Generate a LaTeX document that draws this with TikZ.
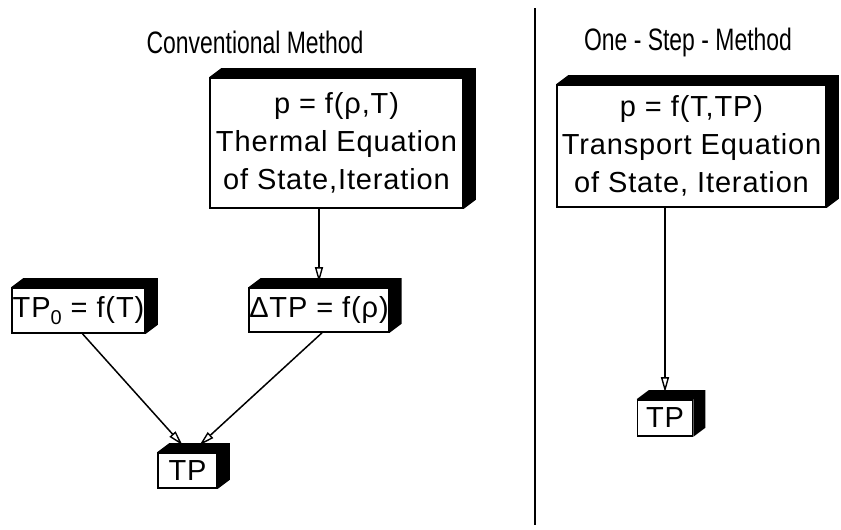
\documentclass[tikz,border=0pt]{standalone}
\usepackage{fontspec}
\setmainfont{Liberation Sans}
\newfontfamily\titlefont[FakeStretch=0.74]{Liberation Sans}
\newfontfamily\boxfont[LetterSpace=3]{Liberation Sans}
\usetikzlibrary{arrows.meta}
\tikzset{
  cube/.style={draw, line width=1.6pt, fill=white, inner sep=0pt, align=center,
    font=\boxfont\fontsize{29}{38}\selectfont},
  ttl/.style={font=\titlefont\fontsize{31}{33}\selectfont},
  conn/.style={line width=1.5pt, -{Triangle[open,length=15pt,width=8pt,line width=1.4pt]}}
}
\begin{document}
\begin{tikzpicture}[x=1pt,y=-1pt]
\useasboundingbox (0,0) rectangle (841,530);
% titles and divider
\node[ttl] (t1) at (255,42) {Conventional Method};
\node[ttl] (t2) at (688,42) {One - Step - Method};
\coordinate (dtop) at (535,8);
\coordinate (dbot) at (535,525);
\draw[line width=1.6pt] (dtop) -- (dbot);
% boxes
\node[cube, minimum width=253pt, minimum height=130pt] (therm) at (336.5,143)
  {p = f(ρ,T)\\Thermal Equation\\of State,Iteration};
\node[cube, minimum width=269pt, minimum height=122pt] (trans) at (691.5,146)
  {p = f(T,TP)\\Transport Equation\\of State, Iteration};
\node[cube, minimum width=133pt, minimum height=45pt] (tpz) at (78.5,310.5)
  {TP\raisebox{-7pt}{\fontsize{20}{20}\selectfont 0} = f(T)};
\node[cube, minimum width=132pt, minimum height=44pt] (dtp) at (319,310)
  {ΔTP = f(ρ)};
\node[cube, minimum width=59pt, minimum height=35pt] (tpa) at (187.5,470.5) {TP};
\node[cube, minimum width=55pt, minimum height=36pt] (tpb) at (665,418) {TP};
% 3D faces
\foreach \n in {therm,trans,tpz,dtp,tpa,tpb}{
  \fill[black] (\n.north west) -- ([shift={(12pt,9pt)}]\n.north west)
    -| ([shift={(12pt,9pt)}]\n.south east) -- (\n.south east) -- (\n.north east) -- cycle;
}
% connectors
\draw[conn] (dtp.north |- therm.south) -- ([yshift=5pt]dtp.north);
\draw[conn] (tpb.north |- trans.south) -- ([yshift=7pt]tpb.north);
\draw[conn] ([xshift=4pt]tpz.south) -- ([xshift=-5pt,yshift=7pt]tpa.north);
\draw[conn] ([xshift=3pt]dtp.south) -- ([xshift=12pt,yshift=7pt]tpa.north);
\end{tikzpicture}
\end{document}
